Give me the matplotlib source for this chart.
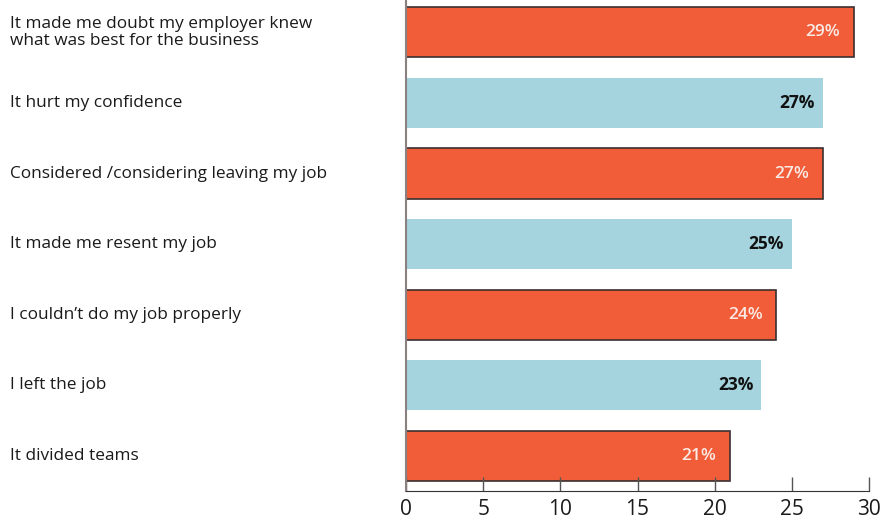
import matplotlib
matplotlib.use('Agg')
import matplotlib.pyplot as plt
import matplotlib.transforms as mtransforms

plt.rcParams['font.family'] = ['Open Sans', 'DejaVu Sans']

labels = [
    'It made me doubt my employer knew\nwhat was best for the business',
    'It hurt my confidence',
    'Considered /considering leaving my job',
    'It made me resent my job',
    'I couldn\u2019t do my job properly',
    'I left the job',
    'It divided teams',
]
values = [29, 27, 27, 25, 24, 23, 21]

ORANGE = '#F05D38'
BLUE = '#A5D3DE'

fig = plt.figure(figsize=(8.84, 5.20), dpi=100)
ax = fig.add_axes([406 / 884, 1 - 491 / 520, (869 - 406) / 884, 491 / 520])

pos = list(range(len(values)))
for i, (y, v) in enumerate(zip(pos, values)):
    if i % 2 == 0:
        ax.barh(y, v, height=0.71, color=ORANGE, edgecolor='#3a3030', linewidth=1.2)
        ax.text(v - 0.9, y, f'{v}%', ha='right', va='center', color='#fbe9e4',
                fontsize=12.5, fontweight='semibold')
    else:
        ax.barh(y, v, height=0.71, color=BLUE, edgecolor='none')
        ax.text(v - 0.5, y, f'{v}%', ha='right', va='center', color='#111111',
                fontsize=12.5, fontweight='bold')

trans = mtransforms.blended_transform_factory(ax.transAxes, ax.transData)
for y, lab in zip(pos, labels):
    ax.text(-396 / 463, y, lab, ha='left', va='center', fontsize=12.4,
            color='#1a1a1a', transform=trans, linespacing=1.1)

ax.set_xlim(0, 30)
ax.set_ylim(6.5, -0.46)
ax.set_xticks([0, 5, 10, 15, 20, 25, 30])
ax.set_yticks([])
ax.tick_params(axis='x', direction='in', length=10, width=1, color='#555555',
               labelsize=15, pad=6, labelcolor='#1a1a1a')
ax.spines['top'].set_visible(False)
ax.spines['right'].set_visible(False)
ax.spines['left'].set_color('#8a8080')
ax.spines['left'].set_linewidth(1.5)
ax.spines['bottom'].set_color('#333333')

fig.savefig('out.png', dpi=100)
